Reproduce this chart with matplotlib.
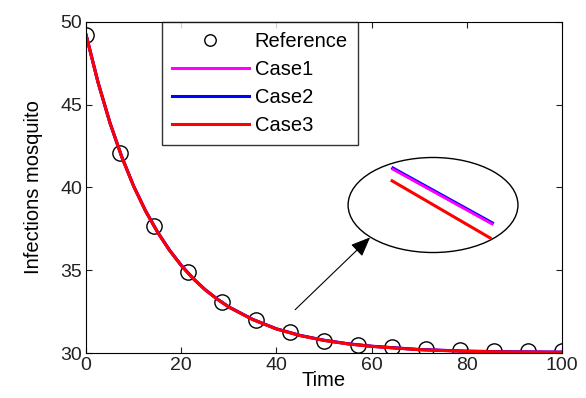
import matplotlib.pyplot as plt
from matplotlib.patches import Ellipse

plt.rcParams['font.family'] = ['Liberation Sans', 'DejaVu Sans']

# reference points (circles)
t_ref = [0, 7.14, 14.29, 21.43, 28.57, 35.71, 42.86, 50, 57.14, 64.29, 71.43, 78.57, 85.71, 92.86, 100]
y_ref = [49.2, 42.1, 37.7, 34.9, 33.1, 32.0, 31.25, 30.75, 30.5, 30.35, 30.25, 30.2, 30.15, 30.1, 30.1]

# model curves
t = [0, 2.5, 5, 7.5, 10, 12.5, 15, 17.5, 20, 22.5, 25, 27.5, 30, 35, 40, 45, 50, 55, 60, 65, 70, 75, 80, 85, 90, 95, 100]
case3 = [49.2, 46.34, 43.9, 41.83, 40.06, 38.57, 37.3, 36.21, 35.28, 34.49, 33.82, 33.26, 32.77,
         32.02, 31.45, 31.05, 30.76, 30.55, 30.4, 30.3, 30.2, 30.15, 30.1, 30.08, 30.06, 30.05, 30.04]
case2 = [49.2, 46.35, 43.91, 41.84, 40.07, 38.58, 37.31, 36.22, 35.29, 34.5, 33.83, 33.27, 32.78,
         32.03, 31.46, 31.06, 30.77, 30.56, 30.41, 30.31, 30.21, 30.16, 30.11, 30.09, 30.07, 30.06, 30.05]
case1 = [49.2, 46.35, 43.91, 41.84, 40.07, 38.58, 37.31, 36.22, 35.29, 34.5, 33.83, 33.27, 32.78,
         32.03, 31.46, 31.06, 30.77, 30.56, 30.41, 30.31, 30.21, 30.16, 30.11, 30.09, 30.07, 30.06, 30.05]

fig = plt.figure(figsize=(5.86, 3.98), dpi=100)
ax = fig.add_axes([0.147, 0.113, 0.812, 0.832])

ax.plot(t_ref, y_ref, 'o', mfc='none', mec='black', ms=11, mew=1.0, label='Reference')
ax.plot(t, case1, color='magenta', lw=2.2, label='Case1')
ax.plot(t, case2, color='blue', lw=2.2, label='Case2')
ax.plot(t, case3, color='red', lw=2.2, label='Case3')

# zoomed-in view
ax.add_patch(Ellipse((72.9, 38.94), 35.7, 5.74, fill=False, ec='black', lw=1.0))
ax.plot([64.5, 85.3], [41.15, 37.85], color='blue', lw=2.6)
ax.plot([64.5, 85.3], [41.1, 37.8], color='magenta', lw=2.0)
ax.plot([64.3, 84.9], [40.4, 36.95], color='red', lw=2.2)
ax.annotate('', xy=(60.1, 37.1), xytext=(43.5, 32.5),
            arrowprops=dict(arrowstyle='-|>,head_length=1.2,head_width=0.5', color='black', lw=0.8))

ax.set_xlim(0, 100)
ax.set_ylim(30, 50)
ax.set_xticks([0, 20, 40, 60, 80, 100])
ax.set_yticks([30, 35, 40, 45, 50])
ax.tick_params(direction='in', top=True, right=True, labelsize=14, colors='#222222', length=4, pad=3)
ax.set_xlabel('Time', fontsize=14.5, labelpad=-2)
ax.set_ylabel('Infections mosquito', fontsize=14.5, labelpad=12)

leg = ax.legend(loc='upper left', bbox_to_anchor=(162/586, 1-22/398), bbox_transform=fig.transFigure,
                fontsize=14.5, frameon=True, fancybox=False, edgecolor='black', handlelength=3.8,
                handletextpad=0.3, borderaxespad=0, labelspacing=0.45, borderpad=0.5, markerscale=0.75)
leg.get_frame().set_linewidth(1.0)

fig.savefig('out.png', dpi=100)
